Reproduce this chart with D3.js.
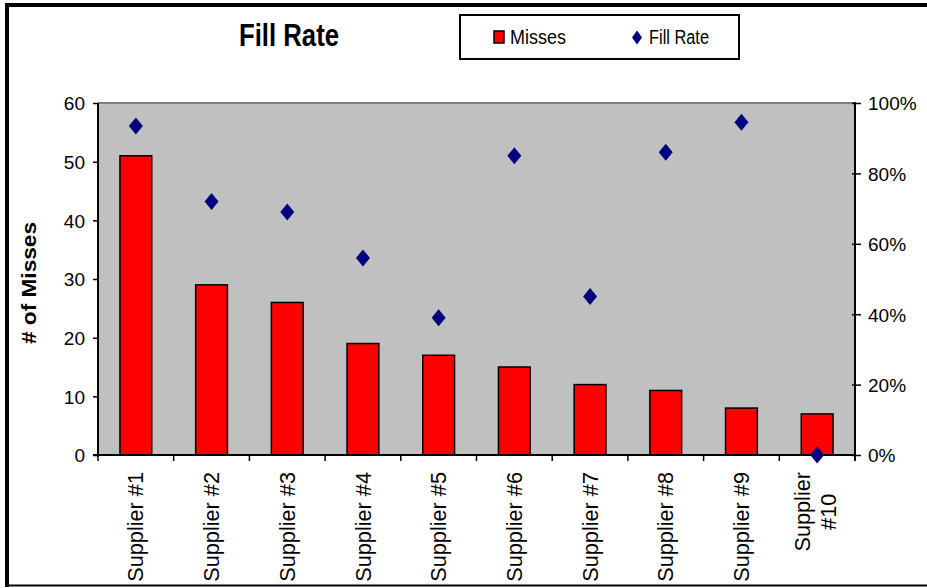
<!DOCTYPE html>
<html>
<head>
<meta charset="utf-8">
<script src="https://cdn.jsdelivr.net/npm/d3@7"></script>
<style>
  body { margin: 0; background: #fff; }
  text { font-family: "Liberation Sans", Arial, sans-serif; fill: #000; }
</style>
</head>
<body>
<div id="chart"></div>
<script>
var suppliers = ["Supplier #1", "Supplier #2", "Supplier #3", "Supplier #4", "Supplier #5",
                 "Supplier #6", "Supplier #7", "Supplier #8", "Supplier #9", "Supplier #10"];
var misses = [51, 29, 26, 19, 17, 15, 12, 11, 8, 7];
var fillRate = [0.935, 0.72, 0.69, 0.56, 0.39, 0.85, 0.45, 0.86, 0.945, 0];
var missTicks = [0, 10, 20, 30, 40, 50, 60];
var rateTicks = [0, 0.2, 0.4, 0.6, 0.8, 1];

var width = 927, height = 588;
var plot = {left: 98, right: 855, top: 103, bottom: 455};

var svg = d3.select("#chart").append("svg")
    .attr("width", width)
    .attr("height", height);

// outer chart frame
svg.append("line").attr("x1", 7).attr("x2", 7).attr("y1", 3).attr("y2", 587)
    .attr("stroke", "#000").attr("stroke-width", 4);
svg.append("line").attr("x1", 5).attr("x2", 927).attr("y1", 5).attr("y2", 5)
    .attr("stroke", "#000").attr("stroke-width", 4);
svg.append("line").attr("x1", 5).attr("x2", 927).attr("y1", 585.5).attr("y2", 585.5)
    .attr("stroke", "#000").attr("stroke-width", 2);

var x = d3.scaleBand()
    .domain(suppliers)
    .range([plot.left, plot.right]);

var y = d3.scaleLinear()
    .domain([0, 60])
    .range([plot.bottom, plot.top]);

var y2 = d3.scaleLinear()
    .domain([0, 1])
    .range([plot.bottom, plot.top]);

// plot background
svg.append("rect")
    .attr("x", plot.left).attr("y", plot.top)
    .attr("width", plot.right - plot.left)
    .attr("height", plot.bottom - plot.top)
    .attr("fill", "#c0c0c0");
svg.append("line")
    .attr("x1", plot.left).attr("x2", plot.right)
    .attr("y1", plot.top).attr("y2", plot.top)
    .attr("stroke", "#808080").attr("stroke-width", 2);

// bars
var barW = x.bandwidth() * 0.42;
svg.append("g")
    .selectAll("rect")
    .data(misses)
    .enter()
    .append("rect")
    .attr("x", function (d, i) { return x(suppliers[i]) + (x.bandwidth() - barW) / 2; })
    .attr("y", function (d) { return y(d); })
    .attr("width", barW)
    .attr("height", function (d) { return y(0) - y(d); })
    .attr("fill", "#ff0000")
    .attr("stroke", "#000")
    .attr("stroke-width", 1.5);

// left axis
var left = svg.append("g")
    .attr("transform", "translate(" + plot.left + ",0)")
    .call(d3.axisLeft(y).tickValues(missTicks).tickSize(5).tickPadding(8));
left.select(".domain").remove();
left.selectAll("line").attr("x2", -5).attr("x1", 1).attr("stroke", "#000").attr("stroke-width", 1.5);
left.selectAll("text").style("font-size", "19px").attr("dy", "0.36em");
svg.append("line")
    .attr("x1", plot.left).attr("x2", plot.left)
    .attr("y1", plot.top).attr("y2", plot.bottom + 2)
    .attr("stroke", "#000").attr("stroke-width", 2);

// right axis
var right = svg.append("g")
    .attr("transform", "translate(" + plot.right + ",0)")
    .call(d3.axisRight(y2).tickValues(rateTicks).tickFormat(d3.format(".0%")).tickSize(6).tickPadding(7));
right.select(".domain").remove();
right.selectAll("line").attr("x1", -3).attr("x2", 6).attr("stroke", "#000").attr("stroke-width", 1.5);
right.selectAll("text").style("font-size", "19px").attr("dy", "0.36em");
svg.append("line")
    .attr("x1", plot.right).attr("x2", plot.right)
    .attr("y1", plot.top - 1).attr("y2", plot.bottom + 6)
    .attr("stroke", "#000").attr("stroke-width", 2);

// bottom axis (ticks at category boundaries)
var bounds = suppliers.map(function (s) { return x(s); }).concat([plot.right]);
svg.append("line")
    .attr("x1", plot.left - 5).attr("x2", plot.right)
    .attr("y1", plot.bottom).attr("y2", plot.bottom)
    .attr("stroke", "#000").attr("stroke-width", 2);
svg.append("g")
    .selectAll("line")
    .data(bounds)
    .enter()
    .append("line")
    .attr("x1", function (d) { return d; })
    .attr("x2", function (d) { return d; })
    .attr("y1", plot.bottom)
    .attr("y2", plot.bottom + 6)
    .attr("stroke", "#000").attr("stroke-width", 1.5);

// category labels, rotated; a label too long is wrapped in two centred lines
var labelTop = 472, lineGap = 26, maxLen = 112;
var labelG = svg.append("g").style("font-size", "21.7px");
suppliers.forEach(function (d) {
    var cx = x(d) + x.bandwidth() / 2;
    var t = labelG.append("text")
        .attr("text-anchor", "end")
        .attr("dy", "0.35em")
        .attr("transform", "translate(" + cx + "," + labelTop + ") rotate(-90)")
        .text(d);
    if (t.node().getComputedTextLength() > maxLen) {
        var cut = d.lastIndexOf(" ");
        var parts = [d.slice(0, cut), d.slice(cut + 1)];
        t.text(parts[0]);
        var w = t.node().getComputedTextLength();
        t.remove();
        parts.forEach(function (p, i) {
            labelG.append("text")
                .attr("text-anchor", "middle")
                .attr("dy", "0.35em")
                .attr("transform", "translate(" + (cx + (i - 0.5) * lineGap - 2) + "," + (labelTop + w / 2) + ") rotate(-90)")
                .text(p);
        });
    }
});

// fill-rate markers
var diamond = "M0,-8.5L7,0L0,8.5L-7,0Z";
svg.append("g")
    .selectAll("path")
    .data(fillRate)
    .enter()
    .append("path")
    .attr("d", diamond)
    .attr("transform", function (d, i) {
        return "translate(" + (x(suppliers[i]) + x.bandwidth() / 2) + "," + y2(d) + ")";
    })
    .attr("fill", "#000080");

// y axis title
svg.append("text")
    .attr("transform", "translate(36,283) rotate(-90)")
    .attr("text-anchor", "middle")
    .attr("textLength", 122)
    .attr("lengthAdjust", "spacingAndGlyphs")
    .style("font-size", "21px")
    .style("font-weight", "bold")
    .text("# of Misses");

// title
svg.append("text")
    .attr("x", 239)
    .attr("y", 46)
    .attr("textLength", 100)
    .attr("lengthAdjust", "spacingAndGlyphs")
    .style("font-size", "32px")
    .style("font-weight", "bold")
    .text("Fill Rate");

// legend
var legend = svg.append("g");
legend.append("rect")
    .attr("x", 460).attr("y", 15)
    .attr("width", 279).attr("height", 44)
    .attr("fill", "#fff")
    .attr("stroke", "#000").attr("stroke-width", 2);
legend.append("rect")
    .attr("x", 494).attr("y", 31)
    .attr("width", 10).attr("height", 12)
    .attr("fill", "#ff0000")
    .attr("stroke", "#000").attr("stroke-width", 1.5);
legend.append("text")
    .attr("x", 510).attr("y", 44)
    .attr("textLength", 56)
    .attr("lengthAdjust", "spacingAndGlyphs")
    .style("font-size", "20px")
    .text("Misses");
legend.append("path")
    .attr("d", "M0,-7L5,0L0,7L-5,0Z")
    .attr("transform", "translate(637,37.5)")
    .attr("fill", "#000080");
legend.append("text")
    .attr("x", 649).attr("y", 44)
    .attr("textLength", 60)
    .attr("lengthAdjust", "spacingAndGlyphs")
    .style("font-size", "20px")
    .text("Fill Rate");
</script>
</body>
</html>
